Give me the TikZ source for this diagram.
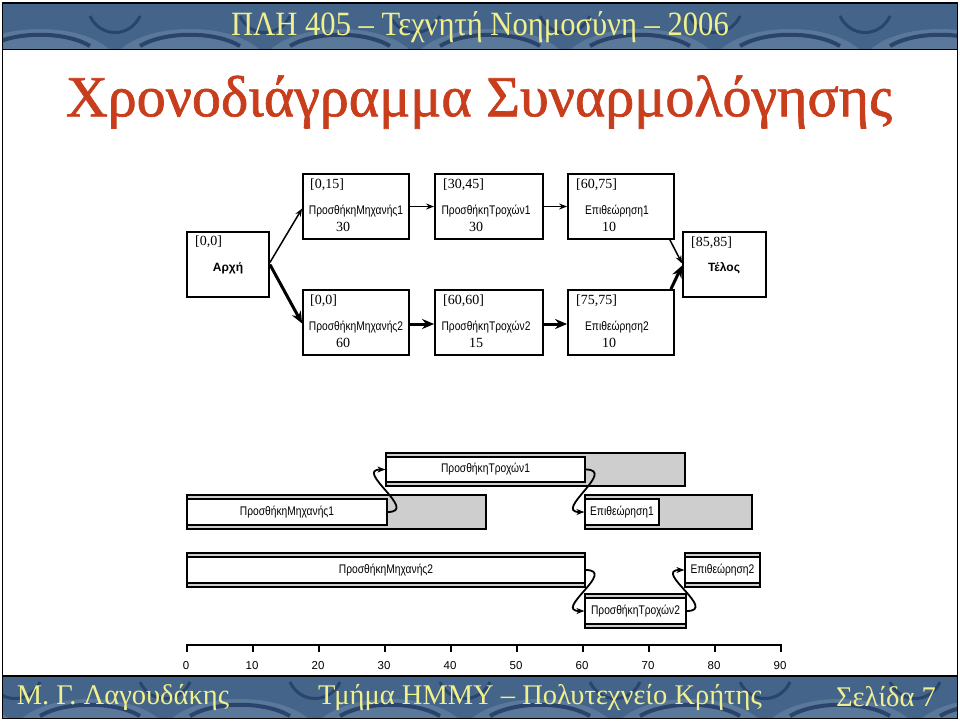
\documentclass[tikz,border=0pt]{standalone}
\usepackage{fontspec}
\setmainfont{Liberation Serif}
\setsansfont{Liberation Sans}
\newfontfamily\narrowsans[FakeStretch=0.82]{Liberation Sans}
\newfontfamily\titlefont[FakeBold=1.2]{Liberation Serif}
\newfontfamily\hdrfont[FakeStretch=0.9]{Liberation Serif}
\usetikzlibrary{arrows.meta}
\definecolor{banbase}{RGB}{68,100,138}
\definecolor{bandark}{RGB}{32,56,96}
\definecolor{banlight}{RGB}{112,140,170}
\definecolor{hdrtext}{RGB}{240,240,140}
\definecolor{titlered}{RGB}{200,62,28}
\definecolor{slackgray}{RGB}{206,206,206}
\begin{document}
\begin{tikzpicture}[x=1pt,y=-1pt,
  netbox/.style={draw, line width=1.8pt, inner sep=0pt},
  estxt/.style={font=\fontsize{14}{16}\selectfont, anchor=west, inner sep=0pt},
  acttxt/.style={font=\narrowsans\fontsize{12.5}{14}\selectfont, inner sep=0pt},
  durtxt/.style={font=\fontsize{14}{16}\selectfont, inner sep=0pt},
  termtxt/.style={font=\sffamily\bfseries\fontsize{12}{14}\selectfont, inner sep=0pt},
  thinarr/.style={line width=1.5pt, -{Stealth[length=8pt,width=6pt]}},
  thickarr/.style={line width=3pt, -{Stealth[length=12pt,width=10pt]}},
  outerbar/.style={draw, line width=1.6pt, fill=slackgray, inner sep=0pt},
  innerbar/.style={draw, line width=1.2pt, fill=white, inner sep=0pt, font=\narrowsans\fontsize{12.5}{14}\selectfont},
  gcurve/.style={line width=1.8pt, -{Stealth[length=8pt,width=6pt]}},
  axlab/.style={font=\sffamily\fontsize{11.5}{13}\selectfont, inner sep=0pt},
  bantxt/.style={text=hdrtext, inner sep=0pt}
]
\useasboundingbox (0,0) rectangle (960,721);
\fill[white] (0,0) rectangle (960,721);
% ---------- banners ----------
\begin{scope}
\clip (3,3) rectangle (957,49.5);
\fill[banbase] (0,0) rectangle (960,50);
\foreach \x in {-110,40,...,1100} {
  \fill[banlight, opacity=0.5] (\x-70,50) .. controls (\x-40,22) and (\x+40,22) .. (\x+70,50) -- cycle;
  \draw[bandark, opacity=0.8, line width=4pt] (\x-50,46) .. controls (\x-25,31) and (\x+25,31) .. (\x+50,46);
  \draw[bandark, opacity=0.7, line width=3pt] (\x+50,16) .. controls (\x+60,38) and (\x+90,38) .. (\x+100,16);
}
\end{scope}
\begin{scope}
\clip (3,676) rectangle (957,718.5);
\fill[banbase] (0,670) rectangle (960,721);
\foreach \x in {-60,90,...,1100} {
  \fill[banlight, opacity=0.5] (\x-70,720) .. controls (\x-40,692) and (\x+40,692) .. (\x+70,720) -- cycle;
  \draw[bandark, opacity=0.8, line width=4pt] (\x-50,716) .. controls (\x-25,701) and (\x+25,701) .. (\x+50,716);
  \draw[bandark, opacity=0.7, line width=3pt] (\x+50,682) .. controls (\x+60,704) and (\x+90,704) .. (\x+100,682);
}
\end{scope}
\draw[line width=1.2pt] (3,49.5) -- (957,49.5);
\draw[line width=1.2pt] (3,676) -- (957,676);
\draw[line width=1.5pt] (2.5,3) rectangle (957.5,718.5);
\node[bantxt, font=\hdrfont\fontsize{34}{36}\selectfont] (hdr) at (480,27) {ΠΛΗ 405 – Τεχνητή Νοημοσύνη – 2006};
\node[bantxt, font=\fontsize{28.5}{31}\selectfont] (fl) at (123,697) {Μ. Γ. Λαγουδάκης};
\node[bantxt, font=\fontsize{28.5}{31}\selectfont] (fc) at (540,697) {Τμήμα ΗΜΜΥ – Πολυτεχνείο Κρήτης};
\node[bantxt, font=\fontsize{28.5}{31}\selectfont] (fr) at (886,697) {Σελίδα 7};
% ---------- title ----------
\node[text=titlered, inner sep=0pt, font=\titlefont\fontsize{58}{62}\selectfont] (title) at (479,102) {Χρονοδιάγραμμα Συναρμολόγησης};
% ---------- network ----------
\node[netbox, minimum width=82, minimum height=65] (start) at (228,264.5) {};
\node[netbox, minimum width=106, minimum height=65] (pm1) at (356,206.5) {};
\node[netbox, minimum width=108, minimum height=65] (pt1) at (489,206.5) {};
\node[netbox, minimum width=106, minimum height=65] (e1) at (621,206.5) {};
\node[netbox, minimum width=83, minimum height=65] (end) at (724.5,264.5) {};
\node[netbox, minimum width=106, minimum height=65] (pm2) at (356,322.5) {};
\node[netbox, minimum width=108, minimum height=65] (pt2) at (489,322.5) {};
\node[netbox, minimum width=106, minimum height=65] (e2) at (621,322.5) {};

\node[estxt] (startes) at (195,242) {[0,0]};
\node[termtxt] (startn) at (228,268) {Αρχή};
\node[estxt] (endes) at (691,243) {[85,85]};
\node[termtxt] (endn) at (724,268) {Τέλος};

\node[estxt] (pm1es) at (310,185) {[0,15]};
\node[acttxt] (pm1n) at (356,211) {ΠροσθήκηΜηχανής1};
\node[durtxt] (pm1d) at (343,227) {30};
\node[estxt] (pt1es) at (443,185) {[30,45]};
\node[acttxt] (pt1n) at (486,211) {ΠροσθήκηΤροχών1};
\node[durtxt] (pt1d) at (476,227) {30};
\node[estxt] (e1es) at (576,185) {[60,75]};
\node[acttxt] (e1n) at (617,211) {Επιθεώρηση1};
\node[durtxt] (e1d) at (609,227) {10};

\node[estxt] (pm2es) at (310,301) {[0,0]};
\node[acttxt] (pm2n) at (356,327) {ΠροσθήκηΜηχανής2};
\node[durtxt] (pm2d) at (343,343) {60};
\node[estxt] (pt2es) at (443,301) {[60,60]};
\node[acttxt] (pt2n) at (486,327) {ΠροσθήκηΤροχών2};
\node[durtxt] (pt2d) at (476,343) {15};
\node[estxt] (e2es) at (576,301) {[75,75]};
\node[acttxt] (e2n) at (617,327) {Επιθεώρηση2};
\node[durtxt] (e2d) at (609,343) {10};

\draw[thinarr] ([yshift=2pt]start.east) -- ([yshift=-2pt]pm1.west);
\draw[thickarr] (start.east) -- ([yshift=-1pt]pm2.west);
\draw[thinarr] (pm1.east) -- (pt1.west);
\draw[thickarr] ([yshift=-1.5pt]pm2.east) -- ([yshift=-1.5pt]pt2.west);
\draw[thinarr] (pt1.east) -- (e1.west);
\draw[thickarr] ([yshift=-1.5pt]pt2.east) -- ([yshift=-1.5pt]e2.west);
\draw[thinarr] ([xshift=-5pt]e1.south east) -- ([yshift=1pt]end.west);
\draw[thickarr] ([xshift=-4pt]e2.north east) -- ([yshift=-1pt]end.west);
% ---------- gantt ----------
\node[outerbar, minimum width=299, minimum height=33] (gpt1o) at (535.5,469.5) {};
\node[innerbar, minimum width=199, minimum height=25] (gpt1) at (485.5,469.5) {ΠροσθήκηΤροχών1};
\node[outerbar, minimum width=299, minimum height=34] (gpm1o) at (336.5,512) {};
\node[innerbar, minimum width=200, minimum height=26] (gpm1) at (287,512) {ΠροσθήκηΜηχανής1};
\node[outerbar, minimum width=167, minimum height=34] (ge1o) at (668.5,512) {};
\node[innerbar, minimum width=74, minimum height=26] (ge1) at (622,512) {Επιθεώρηση1};
\node[outerbar, minimum width=398, minimum height=34] (gpm2o) at (386,570) {};
\node[innerbar, minimum width=398, minimum height=26] (gpm2) at (386,570) {ΠροσθήκηΜηχανής2};
\node[outerbar, minimum width=75, minimum height=34] (ge2o) at (722.5,570) {};
\node[innerbar, minimum width=75, minimum height=26] (ge2) at (722.5,570) {Επιθεώρηση2};
\node[outerbar, minimum width=101, minimum height=34] (gpt2o) at (635.5,611) {};
\node[innerbar, minimum width=101, minimum height=26] (gpt2) at (635.5,611) {ΠροσθήκηΤροχών2};

\draw[gcurve] (gpm1.east) .. controls +(32,0) and +(-32,0) .. (gpt1.west);
\draw[gcurve] (gpt1.east) .. controls +(32,0) and +(-32,0) .. (ge1.west);
\draw[gcurve] (gpm2.east) .. controls +(32,0) and +(-32,0) .. (gpt2.west);
\draw[gcurve] (gpt2.east) .. controls +(32,0) and +(-32,0) .. (ge2.west);
% ---------- time axis ----------
\draw[line width=1.5pt] (187,652) -- (187,645) -- (781,645) -- (781,652);
\foreach \t in {0,...,9} {
  \draw[line width=1.5pt] ({187+66*\t},645) -- ({187+66*\t},652);
}
\foreach \t/\lab in {0/0,1/10,2/20,3/30,4/40,5/50,6/60,7/70,8/80,9/90} {
  \node[axlab] (ax\t) at ({186+66*\t},666) {\lab};
}
\end{tikzpicture}
\end{document}
